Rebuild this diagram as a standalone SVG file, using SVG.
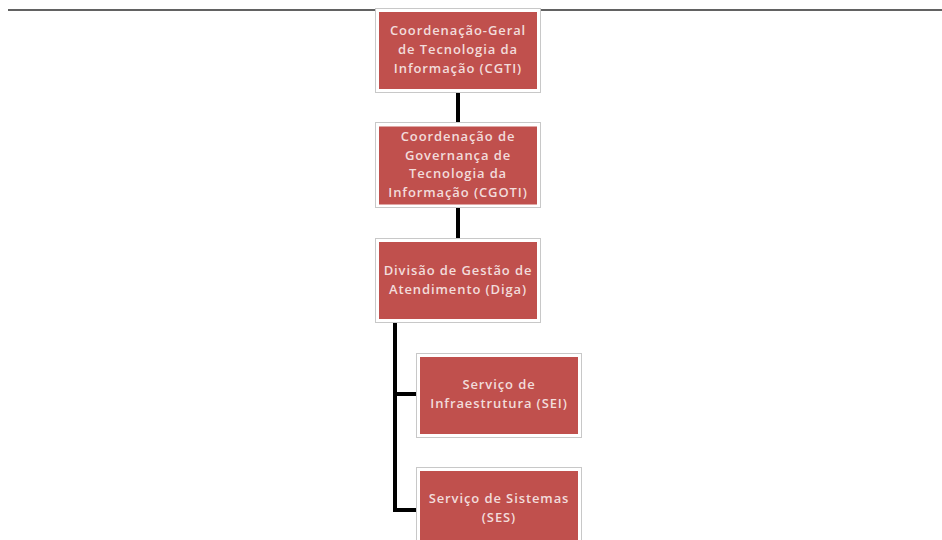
<svg xmlns="http://www.w3.org/2000/svg" width="942" height="540" viewBox="0 0 942 540">
  <style>
    .frame { fill: #ffffff; stroke: #c8c8c8; stroke-width: 1; }
    .box { fill: #c0504d; }
    .label { font-family: "Open Sans", "Liberation Sans", sans-serif; font-size: 13px; font-weight: 600; letter-spacing: 0.9px; fill: #f2dcdb; text-anchor: middle; }
    .link { fill: none; stroke: #000000; stroke-width: 4; }
  </style>
  <rect width="942" height="540" fill="#ffffff"/>
  <!-- header rule -->
  <line x1="8" y1="10" x2="942" y2="10" stroke="#2e2e2e" stroke-width="1.6"/>

  <g id="connectors">
    <line class="link" x1="458" y1="93" x2="458" y2="122"/>
    <line class="link" x1="458" y1="207" x2="458" y2="238"/>
    <polyline class="link" points="395,322 395,510 416,510"/>
    <line class="link" x1="395" y1="394" x2="416" y2="394"/>
  </g>

  <g id="cgti">
    <rect class="frame" x="375.5" y="8.5" width="165" height="84"/>
    <rect class="box" x="379" y="12" width="158" height="77"/>
    <text class="label"><tspan x="458" y="35">Coordenação-Geral</tspan><tspan x="458" y="54">de Tecnologia da</tspan><tspan x="458" y="73">Informação (CGTI)</tspan></text>
  </g>

  <g id="cgoti">
    <rect class="frame" x="375.5" y="122.5" width="165" height="85"/>
    <rect class="box" x="379" y="126.5" width="158" height="78"/>
    <text class="label"><tspan x="458" y="141">Coordenação de</tspan><tspan x="458" y="160">Governança de</tspan><tspan x="458" y="178">Tecnologia da</tspan><tspan x="458" y="197">Informação (CGOTI)</tspan></text>
  </g>

  <g id="diga">
    <rect class="frame" x="375.5" y="238.5" width="165" height="84"/>
    <rect class="box" x="379" y="242" width="158" height="77"/>
    <text class="label"><tspan x="458" y="275">Divisão de Gestão de</tspan><tspan x="458" y="294">Atendimento (Diga)</tspan></text>
  </g>

  <g id="sei">
    <rect class="frame" x="416.5" y="353.5" width="165" height="84"/>
    <rect class="box" x="420" y="357" width="158" height="77"/>
    <text class="label"><tspan x="499" y="389">Serviço de</tspan><tspan x="499" y="408">Infraestrutura (SEI)</tspan></text>
  </g>

  <g id="ses">
    <rect class="frame" x="416.5" y="467.5" width="165" height="84"/>
    <rect class="box" x="420" y="471" width="158" height="77"/>
    <text class="label"><tspan x="499" y="503">Serviço de Sistemas</tspan><tspan x="499" y="522">(SES)</tspan></text>
  </g>
</svg>
